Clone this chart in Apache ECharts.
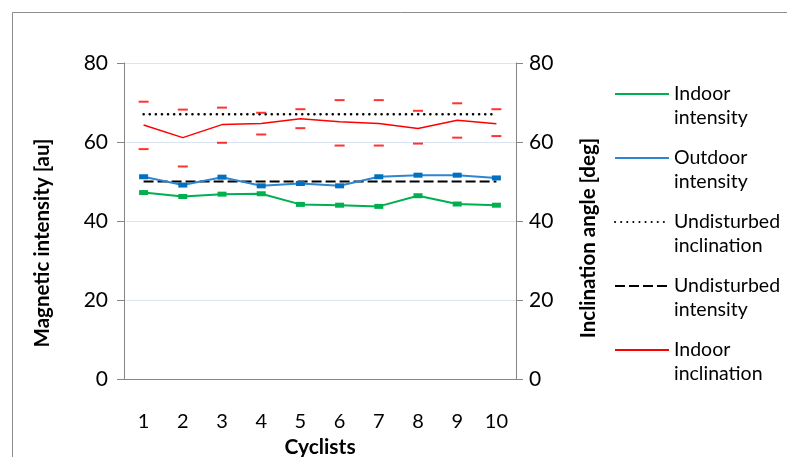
<!DOCTYPE html>
<html>
<head>
<meta charset="utf-8">
<script src="https://cdn.jsdelivr.net/npm/echarts@6/dist/echarts.min.js"></script>
<style>html,body{margin:0;padding:0;background:#fff}#c{width:787px;height:457px}</style>
</head>
<body>
<div id="c"></div>
<script>
const categories = ['1','2','3','4','5','6','7','8','9','10'];
const indoorIntensity = [47.2, 46.2, 46.8, 46.9, 44.2, 44.0, 43.7, 46.4, 44.3, 44.0];
const outdoorIntensity = [51.2, 49.1, 51.1, 48.9, 49.5, 48.9, 51.2, 51.6, 51.6, 50.9];
const undisturbedInclination = [67, 67, 67, 67, 67, 67, 67, 67, 67, 67];
const undisturbedIntensity = [50, 50, 50, 50, 50, 50, 50, 50, 50, 50];
const indoorInclination = [64.3, 61.1, 64.4, 64.7, 65.9, 65.1, 64.7, 63.4, 65.5, 64.6];
const inclinationUpper = [70.2, 68.2, 68.7, 67.4, 68.3, 70.6, 70.6, 67.9, 69.8, 68.3];
const inclinationLower = [58.2, 53.8, 59.8, 61.9, 63.5, 59.1, 59.1, 59.6, 61.1, 61.5];
const yTicks = [0, 20, 40, 60, 80];

const FONT = 'Lato, "Open Sans", sans-serif';
const chart = echarts.init(document.getElementById('c'));
const legendNames = {
  'Indoor intensity': '\nIndoor\nintensity',
  'Outdoor intensity': '\nOutdoor\nintensity',
  'Undisturbed inclination': '\nUndisturbed\ninclination',
  'Undisturbed intensity': '\nUndisturbed\nintensity',
  'Indoor inclination': '\nIndoor\ninclination'
};
const legendOrder = ['Indoor intensity', 'Outdoor intensity', 'Undisturbed inclination', 'Undisturbed intensity', 'Indoor inclination'];
chart.setOption({
  animation: false,
  textStyle: { fontFamily: FONT },
  graphic: [{
    type: 'rect', left: 10, top: 10, silent: true,
    shape: { x: 0, y: 0, width: 800, height: 460 },
    style: { fill: 'none', stroke: '#8c8c8c', lineWidth: 1 }
  }],
  grid: { left: 124, right: 271, top: 63, bottom: 78, outerBoundsMode: 'none', containLabel: false },
  legend: {
    orient: 'vertical', left: 614, top: 58, itemGap: -8, padding: 0,
    itemWidth: 54, itemHeight: 6,
    itemStyle: { opacity: 0 },
    data: legendOrder.map(n => ({ name: n })),
    formatter: n => legendNames[n],
    textStyle: { fontFamily: FONT, fontSize: 19.5, lineHeight: 24, color: '#000' }
  },
  xAxis: {
    type: 'category', data: categories, boundaryGap: true,
    name: 'Cyclists', nameLocation: 'middle', nameGap: 49,
    nameTextStyle: { fontFamily: FONT, fontSize: 21, fontWeight: 'bold', color: '#000' },
    axisLine: { lineStyle: { color: '#868686', width: 1 } },
    axisTick: { show: false },
    axisLabel: { fontFamily: FONT, fontSize: 20, color: '#000', margin: 33 }
  },
  yAxis: [{
    type: 'value', min: 0, max: 80, interval: 20,
    name: 'Magnetic intensity [au]', nameLocation: 'middle', nameGap: 71,
    nameTextStyle: { fontFamily: FONT, fontSize: 20.5, fontWeight: 'bold', color: '#000', padding: [0, 44, 0, 0] },
    axisLine: { show: true, lineStyle: { color: '#868686' } },
    axisTick: { show: true, length: 7, lineStyle: { color: '#868686' } },
    axisLabel: { fontFamily: FONT, fontSize: 21, color: '#000', margin: 16 },
    splitLine: { lineStyle: { color: '#dbe5f1', width: 1 } }
  }, {
    type: 'value', min: 0, max: 80, interval: 20, position: 'right',
    name: 'Inclination angle [deg]', nameLocation: 'middle', nameGap: 62,
    nameRotate: 90,
    nameTextStyle: { fontFamily: FONT, fontSize: 20.5, fontWeight: 'bold', color: '#000', padding: [0, 34, 0, 0] },
    axisLine: { show: true, lineStyle: { color: '#868686' } },
    axisTick: { show: true, length: 7, lineStyle: { color: '#868686' } },
    axisLabel: { fontFamily: FONT, fontSize: 21, color: '#000', margin: 13 },
    splitLine: { show: false }
  }],
  series: [{
    name: 'Indoor intensity', type: 'line', yAxisIndex: 0, data: indoorIntensity,
    symbol: 'rect', symbolSize: [9, 5], itemStyle: { color: '#00b050' },
    lineStyle: { color: '#00b050', width: 2 }, z: 3
  }, {
    name: 'Outdoor intensity', type: 'line', yAxisIndex: 0, data: outdoorIntensity,
    symbol: 'rect', symbolSize: [9, 5], itemStyle: { color: '#0070c0' },
    lineStyle: { color: '#2e86d0', width: 2 }, z: 3
  }, {
    name: 'Undisturbed inclination', type: 'line', yAxisIndex: 1, data: undisturbedInclination,
    symbol: 'none', itemStyle: { color: '#000' },
    lineStyle: { color: '#000', width: 2.5, type: [0.1, 6], cap: 'round' }, z: 2
  }, {
    name: 'Undisturbed intensity', type: 'line', yAxisIndex: 0, data: undisturbedIntensity,
    symbol: 'none', itemStyle: { color: '#000' },
    lineStyle: { color: '#000', width: 2, type: [10, 4] }, z: 2
  }, {
    name: 'Indoor inclination', type: 'line', yAxisIndex: 1, data: indoorInclination,
    symbol: 'none', itemStyle: { color: '#ff0000' },
    lineStyle: { color: '#ff0000', width: 1.5 }, z: 3
  }, {
    name: 'upper', type: 'scatter', yAxisIndex: 1, data: inclinationUpper,
    symbol: 'rect', symbolSize: [10, 2], itemStyle: { color: '#ff0000' }, z: 3
  }, {
    name: 'lower', type: 'scatter', yAxisIndex: 1, data: inclinationLower,
    symbol: 'rect', symbolSize: [10, 2], itemStyle: { color: '#ff0000' }, z: 3
  }]
});
</script>
</body>
</html>
